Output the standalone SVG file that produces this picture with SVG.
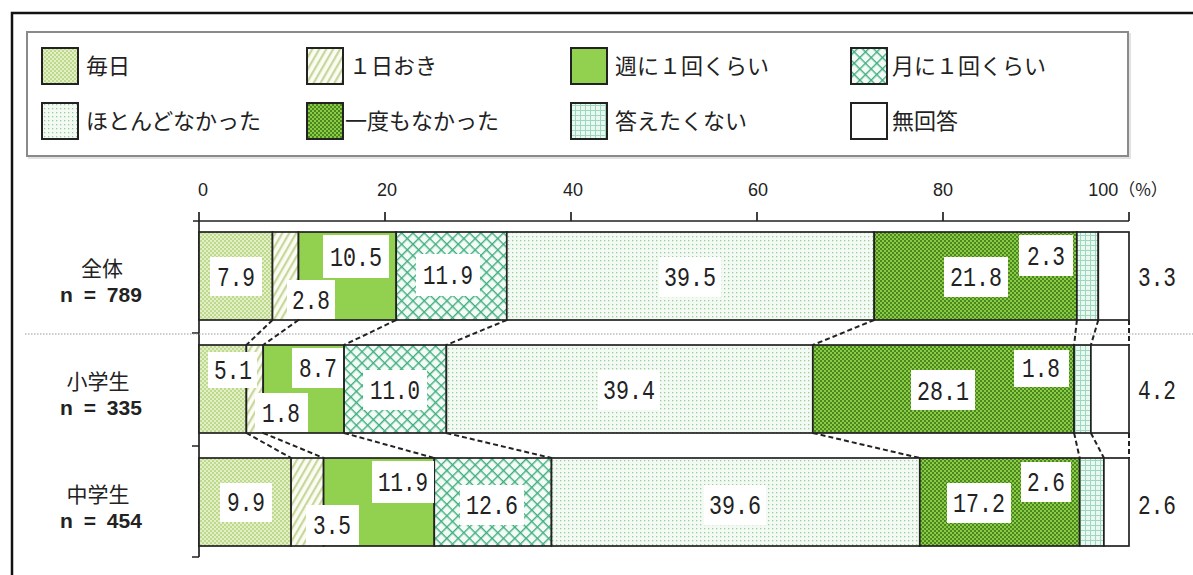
<svg xmlns="http://www.w3.org/2000/svg" width="1193" height="575" viewBox="0 0 1193 575">
<defs>
  <pattern id="pDaily" width="4" height="4" patternUnits="userSpaceOnUse">
    <rect width="4" height="4" fill="#e3f0c6"/>
    <rect width="2" height="2" fill="#bcd98e"/>
    <rect x="2" y="2" width="2" height="2" fill="#bcd98e"/>
  </pattern>
  <pattern id="pAlt" width="6" height="6" patternUnits="userSpaceOnUse" patternTransform="rotate(30)">
    <rect width="6" height="6" fill="#fbfcf3"/>
    <rect width="2.2" height="6" fill="#c7d79c"/>
  </pattern>
  <pattern id="pMonth" width="8" height="8" patternUnits="userSpaceOnUse" patternTransform="rotate(45)">
    <rect width="8" height="8" fill="#f4fbf6"/>
    <rect width="8" height="1.4" fill="#3fae7e"/>
    <rect width="1.4" height="8" fill="#3fae7e"/>
  </pattern>
  <pattern id="pRare" width="4" height="4" patternUnits="userSpaceOnUse">
    <rect width="4" height="4" fill="#f3faf3"/>
    <rect width="1.3" height="1.3" fill="#9ccd9c"/>
  </pattern>
  <pattern id="pNever" width="4" height="4" patternUnits="userSpaceOnUse">
    <rect width="4" height="4" fill="#8ccb44"/>
    <rect width="2" height="2" fill="#4a8720"/>
    <rect x="2" y="2" width="2" height="2" fill="#4a8720"/>
  </pattern>
  <pattern id="pNoAns" width="5" height="5" patternUnits="userSpaceOnUse">
    <rect width="5" height="5" fill="#e9f8f1"/>
    <rect width="5" height="1" fill="#9dd7bd"/>
    <rect width="1" height="5" fill="#9dd7bd"/>
  </pattern>
</defs>
<style>
  .leg { font-family: "Noto Sans CJK JP", "Noto Sans", sans-serif; font-size: 22px; fill: #222; }
  .sw { stroke: #222; stroke-width: 2; }
  .seg { stroke: #222; stroke-width: 1.7; }
  .lbl { fill: #fff; }
  .v { font-family: "Liberation Mono", "DejaVu Sans Mono", monospace; font-size: 28px; fill: #222; text-anchor: middle; }
  .tick { font-family: "Liberation Sans", Arial, sans-serif; font-size: 18px; fill: #222; text-anchor: middle; }
  .pc { font-family: "Noto Sans CJK JP", sans-serif; font-size: 17px; }
  .cat { font-family: "Noto Sans CJK JP", "Noto Sans", sans-serif; font-size: 21px; fill: #222; text-anchor: middle; }
  .n { font-family: "Liberation Sans", Arial, sans-serif; font-size: 21px; font-weight: bold; fill: #222; text-anchor: middle; word-spacing: 5px; }
  .axis { stroke: #222; stroke-width: 1.7; fill: none; }
  .con { stroke: #222; stroke-width: 2; stroke-dasharray: 5 3; fill: none; }
</style>
<rect width="1193" height="575" fill="#fff"/>
<path d="M12,575 V13 H1193" fill="none" stroke="#111" stroke-width="2.5"/>

<g id="legend">
  <rect x="29" y="34" width="1101" height="124" fill="none" stroke="#e2e2e2" stroke-width="2"/>
  <rect x="27" y="32" width="1101" height="124" fill="#fff" stroke="#8a8a8a" stroke-width="2"/>
  <rect class="sw" x="42" y="48" width="36" height="36" fill="url(#pDaily)"/>
  <text class="leg" x="86" y="74">毎日</text>
  <rect class="sw" x="307" y="48" width="36" height="36" fill="url(#pAlt)"/>
  <text class="leg" x="349" y="74">１日おき</text>
  <rect class="sw" x="571" y="48" width="36" height="36" fill="#92d050"/>
  <text class="leg" x="615" y="74">週に１回くらい</text>
  <rect class="sw" x="851" y="48" width="36" height="36" fill="url(#pMonth)"/>
  <text class="leg" x="892" y="74">月に１回くらい</text>
  <rect class="sw" x="42" y="103" width="36" height="36" fill="url(#pRare)"/>
  <text class="leg" x="86" y="129">ほとんどなかった</text>
  <rect class="sw" x="307" y="103" width="36" height="36" fill="url(#pNever)"/>
  <text class="leg" x="345" y="129">一度もなかった</text>
  <rect class="sw" x="571" y="103" width="36" height="36" fill="url(#pNoAns)"/>
  <text class="leg" x="615" y="129">答えたくない</text>
  <rect class="sw" x="851" y="103" width="36" height="36" fill="#fff"/>
  <text class="leg" x="892" y="129">無回答</text>
</g>

<g id="axis">
  <path class="axis" d="M193,221 H1129 M199,212 V557 M385,212 V221 M571,212 V221 M757,212 V221 M943,212 V221 M1129,212 V221 M192,333 H199 M192,446 H199 M192,557 H199"/>
  <text class="tick" x="203" y="196">0</text>
  <text class="tick" x="387" y="196">20</text>
  <text class="tick" x="573" y="196">40</text>
  <text class="tick" x="758" y="196">60</text>
  <text class="tick" x="943" y="196">80</text>
  <text class="tick" x="1128" y="196">100<tspan class="pc">（%）</tspan></text>
  <line x1="25" y1="334" x2="1193" y2="334" stroke="#999" stroke-width="1.2" stroke-dasharray="1.5 1.5"/>
</g>

<g id="connectors">
  <path class="con" d="M272.5,320 L246.4,345 M298.5,320 L263.2,345 M396.2,320 L344.1,345 M506.8,320 L446.4,345 M874.2,320 L812.8,345 M1076.9,320 L1074.1,345 M1098.3,320 L1090.9,345 M1129,320 L1129,345"/>
  <path class="con" d="M246.4,433 L291.1,458 M263.2,433 L323.6,458 M344.1,433 L434.3,458 M446.4,433 L551.5,458 M812.8,433 L919.8,458 M1074.1,433 L1079.7,458 M1090.9,433 L1103.9,458 M1129,433 L1129,458"/>
</g>

<g id="bar-all">
  <text class="cat" x="102" y="276">全体</text>
  <text class="n" x="101" y="302">n = 789</text>
  <rect class="seg" x="199" y="232" width="73.5" height="88" fill="url(#pDaily)"/>
  <rect class="seg" x="272.5" y="232" width="26" height="88" fill="url(#pAlt)"/>
  <rect class="seg" x="298.5" y="232" width="97.7" height="88" fill="#92d050"/>
  <rect class="seg" x="396.2" y="232" width="110.6" height="88" fill="url(#pMonth)"/>
  <rect class="seg" x="506.8" y="232" width="367.4" height="88" fill="url(#pRare)"/>
  <rect class="seg" x="874.2" y="232" width="202.7" height="88" fill="url(#pNever)"/>
  <rect class="seg" x="1076.9" y="232" width="21.4" height="88" fill="url(#pNoAns)"/>
  <rect class="seg" x="1098.3" y="232" width="30.7" height="88" fill="#fff"/>
  <rect class="lbl" x="210" y="257" width="52" height="39"/>
  <text class="v" x="236" y="286" textLength="38" lengthAdjust="spacingAndGlyphs">7.9</text>
  <rect class="lbl" x="287" y="280" width="48" height="39"/>
  <text class="v" x="311" y="309" textLength="38" lengthAdjust="spacingAndGlyphs">2.8</text>
  <rect class="lbl" x="323" y="235" width="66" height="43"/>
  <text class="v" x="356" y="266" textLength="52" lengthAdjust="spacingAndGlyphs">10.5</text>
  <rect class="lbl" x="416" y="254" width="64" height="42"/>
  <text class="v" x="448" y="284" textLength="50" lengthAdjust="spacingAndGlyphs">11.9</text>
  <rect class="lbl" x="659" y="257" width="62" height="40"/>
  <text class="v" x="690" y="286" textLength="52" lengthAdjust="spacingAndGlyphs">39.5</text>
  <rect class="lbl" x="944" y="257" width="64" height="40"/>
  <text class="v" x="976" y="286" textLength="52" lengthAdjust="spacingAndGlyphs">21.8</text>
  <rect class="lbl" x="1019" y="235" width="54" height="41"/>
  <text class="v" x="1046" y="265" textLength="38" lengthAdjust="spacingAndGlyphs">2.3</text>
  <text class="v" x="1157" y="286" textLength="38" lengthAdjust="spacingAndGlyphs">3.3</text>
</g>

<g id="bar-elementary">
  <text class="cat" x="98" y="389">小学生</text>
  <text class="n" x="101" y="415">n = 335</text>
  <rect class="seg" x="199" y="345" width="47.4" height="88" fill="url(#pDaily)"/>
  <rect class="seg" x="246.4" y="345" width="16.8" height="88" fill="url(#pAlt)"/>
  <rect class="seg" x="263.2" y="345" width="80.9" height="88" fill="#92d050"/>
  <rect class="seg" x="344.1" y="345" width="102.3" height="88" fill="url(#pMonth)"/>
  <rect class="seg" x="446.4" y="345" width="366.4" height="88" fill="url(#pRare)"/>
  <rect class="seg" x="812.8" y="345" width="261.3" height="88" fill="url(#pNever)"/>
  <rect class="seg" x="1074.1" y="345" width="16.8" height="88" fill="url(#pNoAns)"/>
  <rect class="seg" x="1090.9" y="345" width="38.1" height="88" fill="#fff"/>
  <rect class="lbl" x="208" y="352" width="49" height="36"/>
  <text class="v" x="233" y="379" textLength="38" lengthAdjust="spacingAndGlyphs">5.1</text>
  <rect class="lbl" x="255" y="393" width="53" height="39"/>
  <text class="v" x="281" y="422" textLength="38" lengthAdjust="spacingAndGlyphs">1.8</text>
  <rect class="lbl" x="292" y="348" width="51" height="40"/>
  <text class="v" x="318" y="377" textLength="38" lengthAdjust="spacingAndGlyphs">8.7</text>
  <rect class="lbl" x="363" y="370" width="64" height="40"/>
  <text class="v" x="395" y="399" textLength="50" lengthAdjust="spacingAndGlyphs">11.0</text>
  <rect class="lbl" x="598" y="370" width="62" height="40"/>
  <text class="v" x="629" y="399" textLength="52" lengthAdjust="spacingAndGlyphs">39.4</text>
  <rect class="lbl" x="911" y="370" width="64" height="40"/>
  <text class="v" x="943" y="400" textLength="52" lengthAdjust="spacingAndGlyphs">28.1</text>
  <rect class="lbl" x="1014" y="350" width="55" height="37"/>
  <text class="v" x="1041" y="377" textLength="38" lengthAdjust="spacingAndGlyphs">1.8</text>
  <text class="v" x="1157" y="399" textLength="38" lengthAdjust="spacingAndGlyphs">4.2</text>
</g>

<g id="bar-junior">
  <text class="cat" x="98" y="502">中学生</text>
  <text class="n" x="101" y="528">n = 454</text>
  <rect class="seg" x="199" y="458" width="92.1" height="88" fill="url(#pDaily)"/>
  <rect class="seg" x="291.1" y="458" width="32.5" height="88" fill="url(#pAlt)"/>
  <rect class="seg" x="323.6" y="458" width="110.7" height="88" fill="#92d050"/>
  <rect class="seg" x="434.3" y="458" width="117.2" height="88" fill="url(#pMonth)"/>
  <rect class="seg" x="551.5" y="458" width="368.3" height="88" fill="url(#pRare)"/>
  <rect class="seg" x="919.8" y="458" width="159.9" height="88" fill="url(#pNever)"/>
  <rect class="seg" x="1079.7" y="458" width="24.2" height="88" fill="url(#pNoAns)"/>
  <rect class="seg" x="1103.9" y="458" width="25.1" height="88" fill="#fff"/>
  <rect class="lbl" x="220" y="483" width="52" height="39"/>
  <text class="v" x="246" y="511" textLength="38" lengthAdjust="spacingAndGlyphs">9.9</text>
  <rect class="lbl" x="306" y="505" width="53" height="40"/>
  <text class="v" x="332" y="534" textLength="38" lengthAdjust="spacingAndGlyphs">3.5</text>
  <rect class="lbl" x="372" y="461" width="62" height="42"/>
  <text class="v" x="403" y="491" textLength="50" lengthAdjust="spacingAndGlyphs">11.9</text>
  <rect class="lbl" x="460" y="485" width="64" height="40"/>
  <text class="v" x="492" y="514" textLength="52" lengthAdjust="spacingAndGlyphs">12.6</text>
  <rect class="lbl" x="704" y="485" width="62" height="40"/>
  <text class="v" x="735" y="514" textLength="52" lengthAdjust="spacingAndGlyphs">39.6</text>
  <rect class="lbl" x="947" y="483" width="64" height="40"/>
  <text class="v" x="979" y="512" textLength="52" lengthAdjust="spacingAndGlyphs">17.2</text>
  <rect class="lbl" x="1021" y="462" width="50" height="40"/>
  <text class="v" x="1046" y="491" textLength="38" lengthAdjust="spacingAndGlyphs">2.6</text>
  <text class="v" x="1157" y="514" textLength="38" lengthAdjust="spacingAndGlyphs">2.6</text>
</g>
</svg>
